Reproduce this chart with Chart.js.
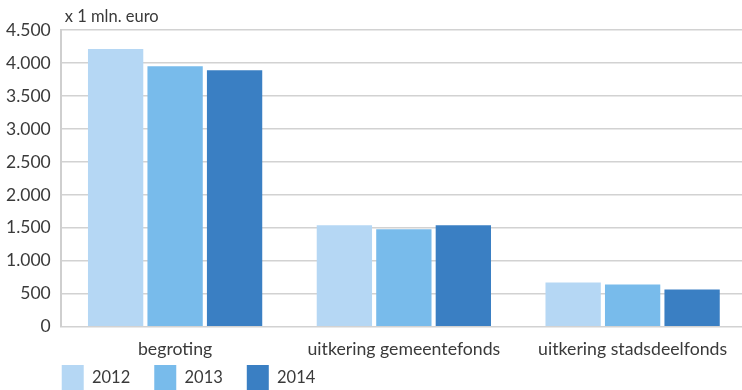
<!DOCTYPE html>
<html>
<head>
<meta charset="utf-8">
<script src="https://cdn.jsdelivr.net/npm/chart.js@4/dist/chart.umd.min.js"></script>
<style>
  html, body { margin: 0; padding: 0; background: #fff; overflow: hidden; }
  #wrap { width: 742px; height: 390px; overflow: hidden; }
</style>
</head>
<body>
<div id="wrap"><canvas id="uitgavenChart" width="747" height="423"></canvas></div>
<script>
const categories = ['begroting', 'uitkering gemeentefonds', 'uitkering stadsdeelfonds'];
const years = ['2012', '2013', '2014'];
const values2012 = [4210, 1540, 670];
const values2013 = [3950, 1480, 640];
const values2014 = [3890, 1540, 565];
const yTicks = [0, 500, 1000, 1500, 2000, 2500, 3000, 3500, 4000, 4500];
const unitLabel = 'x 1 mln. euro';

const colors = ['#b5d7f4', '#78bbeb', '#3a7fc3'];
const textColor = '#3a3a3a';
const fontFamily = 'Lato, "Open Sans", sans-serif';
const legendPad = 24;

// thousands separator as in Dutch: 4.500
const fmt = v => String(v).replace(/\B(?=(\d{3})+(?!\d))/g, '.');

const unitPlugin = {
  id: 'unitLabel',
  beforeDraw(chart) {
    // line the legend up under the plot, close to the category labels
    const lg = chart.legend;
    if (lg) {
      const dx = chart.chartArea.left + 1 - legendPad - lg.left;
      const dy = 365 - legendPad - lg.top;
      lg.left += dx; lg.right += dx;
      lg.top += dy; lg.bottom += dy;
    }
  },
  afterDraw(chart) {
    const { ctx, chartArea } = chart;
    ctx.save();
    ctx.font = '16.5px ' + fontFamily;
    ctx.fillStyle = textColor;
    ctx.textBaseline = 'alphabetic';
    ctx.fillText(unitLabel, chartArea.left + 4, chartArea.top - 8);
    ctx.restore();
  }
};

const ctx = document.getElementById('uitgavenChart').getContext('2d');
new Chart(ctx, {
  type: 'bar',
  data: {
    labels: categories,
    datasets: [values2012, values2013, values2014].map((d, i) => ({
      label: years[i],
      data: d,
      backgroundColor: colors[i],
      borderWidth: 0,
      categoryPercentage: 0.78,
      barPercentage: 0.93
    }))
  },
  options: {
    responsive: false,
    animation: false,
    layout: { padding: { top: 30, right: 0, left: -4, bottom: 0 } },
    plugins: {
      tooltip: { enabled: false },
      legend: {
        position: 'bottom',
        align: 'start',
        labels: {
          boxWidth: 22,
          boxHeight: 25,
          padding: legendPad,
          color: textColor,
          font: { family: fontFamily, size: 16.5 }
        }
      }
    },
    scales: {
      x: {
        grid: { display: false },
        border: { display: false },
        ticks: { color: textColor, font: { family: fontFamily, size: 17.7 }, padding: 4 }
      },
      y: {
        min: 0,
        max: 4500,
        afterBuildTicks: axis => { axis.ticks = yTicks.map(v => ({ value: v })); },
        grid: { color: '#d2d2d2', lineWidth: 1.5, drawTicks: false },
        border: { display: true, color: '#cfcfcf', width: 2 },
        ticks: {
          color: textColor,
          padding: 10,
          font: { family: fontFamily, size: 17.5 },
          callback: v => fmt(v)
        }
      }
    }
  },
  plugins: [unitPlugin]
});
</script>
</body>
</html>
